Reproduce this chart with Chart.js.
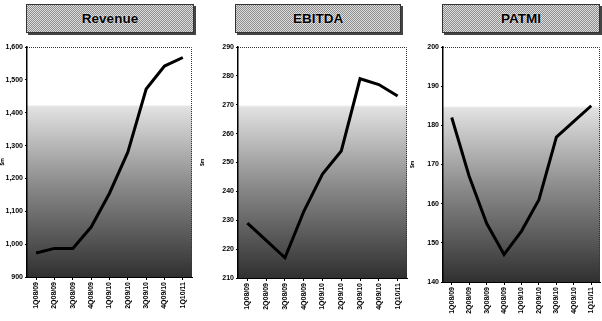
<!DOCTYPE html>
<html>
<head>
<meta charset="utf-8">
<script src="https://cdn.jsdelivr.net/npm/chart.js@4/dist/chart.umd.min.js"></script>
<style>
  body{margin:0;background:#fff;width:602px;height:321px;overflow:hidden;position:relative;font-family:'Liberation Sans',Arial,sans-serif}
  canvas{position:absolute;top:0}
  .ttl{position:absolute;top:4px;height:27px;line-height:27px;text-align:center;font-weight:bold;font-size:13.5px;color:#000;
    background:repeating-conic-gradient(#8c8c8c 0 25%,#dedede 0 50%) 0 0/2px 2px;border:1px solid #333;box-shadow:2px 2px 0 #444;
    text-shadow:0 0 2px #fff}
</style>
</head>
<body>
<div class="ttl" style="left:26px;width:166px">Revenue</div>
<div class="ttl" style="left:235px;width:164px">EBITDA</div>
<div class="ttl" style="left:442px;width:156px">PATMI</div>
<canvas id="c1" width="200" height="321" style="left:0"></canvas>
<canvas id="c2" width="210" height="321" style="left:200px"></canvas>
<canvas id="c3" width="192" height="321" style="left:410px"></canvas>
<script>
const quarters = ['1Q08/09','2Q08/09','3Q08/09','4Q08/09','1Q09/10','2Q09/10','3Q09/10','4Q09/10','1Q10/11'];
const revenue = [973,987,987,1052,1155,1280,1472,1542,1568];
const ebitda  = [229,223,217,233,246,254,279,277,273];
const patmi   = [182,167,155,147,153,161,177,181,185];
const revTicks = [900,1600,100];
const ebitdaTicks = [210,290,10];
const patmiTicks = [140,200,10];

// gradient fill + dotted frame behind the plot
const bgPlugin = {
  id:'bg',
  beforeDraw(chart){
    const {ctx, chartArea:a} = chart;
    const g = ctx.createLinearGradient(0,a.top,0,a.bottom);
    g.addColorStop(0,'#ffffff');
    g.addColorStop(0.25,'#ffffff');
    g.addColorStop(0.26,'#e2e2e2');
    g.addColorStop(0.6,'#8a8a8a');
    g.addColorStop(1,'#303030');
    ctx.save();
    ctx.fillStyle = g;
    ctx.fillRect(a.left,a.top,a.right-a.left,a.bottom-a.top);
    ctx.strokeStyle = '#333';
    ctx.lineWidth = 1;
    ctx.setLineDash([1,1]);
    ctx.beginPath();
    ctx.moveTo(a.left,a.top+0.5); ctx.lineTo(a.right-0.5,a.top+0.5); ctx.lineTo(a.right-0.5,a.bottom);
    ctx.stroke();
    ctx.restore();
  }
};

function makeChart(id, values, t, yw, xh, padRight){
  new Chart(document.getElementById(id),{
    type:'line',
    data:{labels:quarters,datasets:[{data:values,borderColor:'#000',borderWidth:3,pointRadius:0,tension:0,fill:false}]},
    options:{
      responsive:false,animation:false,
      layout:{padding:{top:47,right:padRight,left:0,bottom:0}},
      plugins:{legend:{display:false},tooltip:{enabled:false}},
      scales:{
        x:{offset:true,afterFit:s=>{s.height=xh;},
           grid:{display:true,drawOnChartArea:false,tickLength:3,color:'#000'},
           border:{color:'#000',width:1},
           ticks:{autoSkip:false,maxRotation:90,minRotation:90,padding:2,color:'#000',font:{family:'Liberation Sans Narrow, Liberation Sans, Arial',size:7,weight:'bold'}}},
        y:{min:t[0],max:t[1],afterFit:s=>{s.width=yw;},
           grid:{display:true,drawOnChartArea:false,tickLength:2,color:'#000'},
           border:{color:'#000',width:1.5},
           title:{display:true,text:'$m',color:'#000',padding:0,font:{family:'Liberation Sans',size:5,weight:'bold'}},
           ticks:{stepSize:t[2],padding:2,color:'#000',font:{family:'Liberation Sans Narrow, Liberation Sans, Arial',size:7,weight:'bold'}}}
      }
    },
    plugins:[bgPlugin]
  });
}

makeChart('c1', revenue, revTicks, 27, 44, 8);
makeChart('c2', ebitda, ebitdaTicks, 38, 43, 3);
makeChart('c3', patmi, patmiTicks, 33, 39, 2);
</script>
</body>
</html>
